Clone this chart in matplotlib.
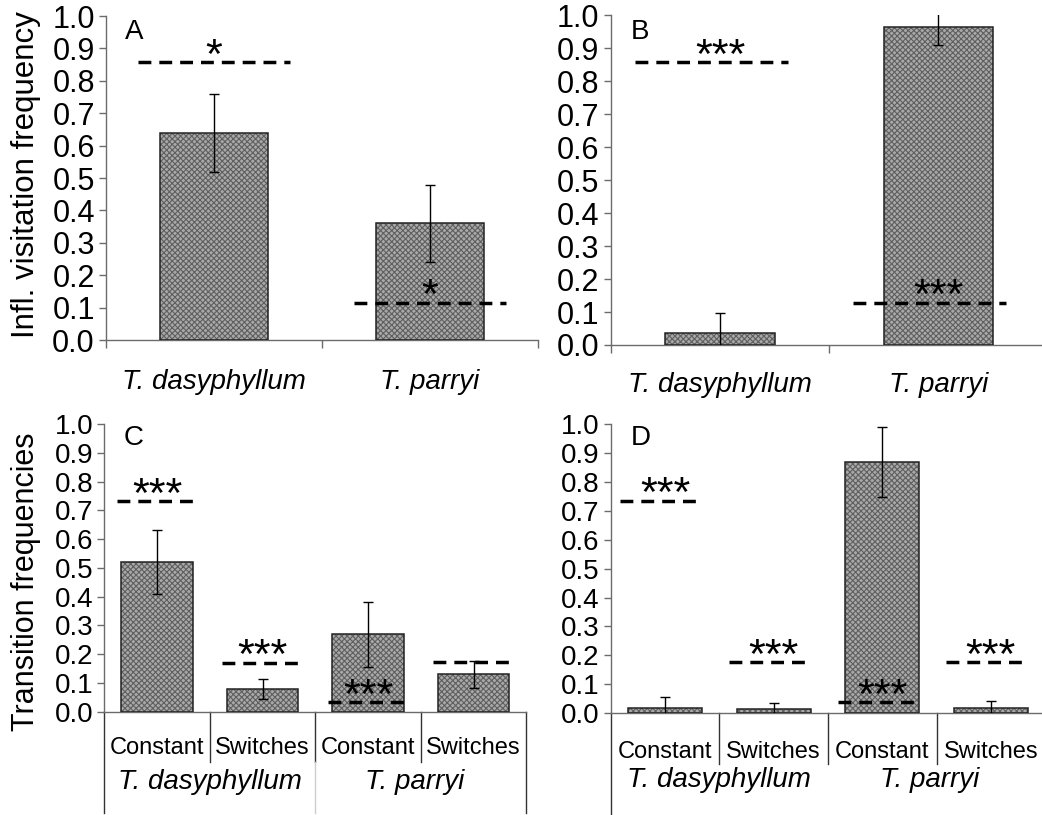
import numpy as np
import matplotlib.pyplot as plt
from matplotlib.transforms import blended_transform_factory

plt.rcParams['font.family'] = ['Liberation Sans', 'DejaVu Sans']
plt.rcParams['hatch.linewidth'] = 0.8

# data
species = ['T. dasyphyllum', 'T. parryi']
kinds = ['Constant', 'Switches']

a_vals = [0.64, 0.36]
a_err = [0.12, 0.12]
a_null = [0.857, 0.115]
a_sig = ['*', '*']

b_vals = [0.037, 0.964]
b_err = [0.061, 0.055]
b_null = [0.857, 0.128]
b_sig = ['***', '***']

c_vals = [0.52, 0.08, 0.27, 0.13]
c_err = [0.112, 0.035, 0.113, 0.047]
c_null = [0.732, 0.17, 0.034, 0.172]
c_sig = ['***', '***', '***', '']

d_vals = [0.017, 0.014, 0.867, 0.017]
d_err = [0.038, 0.023, 0.121, 0.024]
d_null = [0.734, 0.176, 0.039, 0.176]
d_sig = ['***', '***', '***', '***']

SPINE = '#6b6b6b'


def draw_panel(ax, vals, errs, nulls, sigs, width, span, letter, tick_fs):
    x = np.arange(len(vals))
    ax.bar(x, vals, width, color='#a9a9a9', edgecolor='#5f5f5f',
           hatch='xxxxxx', linewidth=0, zorder=2)
    ax.bar(x, vals, width, fill=False, edgecolor='#222222', linewidth=1.1, zorder=3)
    ax.errorbar(x, vals, yerr=errs, fmt='none', ecolor='black', elinewidth=1,
                capsize=3.5, capthick=1, zorder=4)
    for xi, n, s in zip(x, nulls, sigs):
        ax.plot([xi + span[0], xi + span[1]], [n, n], color='black', lw=2.5,
                dashes=(3.7, 2.3), zorder=5, dash_capstyle='butt', clip_on=False)
        if s:
            ax.annotate(s, xy=(xi, n), xytext=(0, -4), textcoords='offset points',
                        ha='center', va='baseline', fontsize=31, zorder=6)
    ax.set_xlim(-0.5, len(vals) - 0.5)
    ax.set_ylim(0, 1)
    ax.set_yticks(np.arange(0, 1.01, 0.1))
    ax.set_yticklabels(['%.1f' % v for v in np.arange(0, 1.01, 0.1)], fontsize=tick_fs)
    ax.tick_params(axis='y', direction='out', length=5, width=1, color=SPINE, pad=3)
    for side in ['top', 'right']:
        ax.spines[side].set_visible(False)
    for side in ['left', 'bottom']:
        ax.spines[side].set_color(SPINE)
        ax.spines[side].set_linewidth(1)
    ax.text(0.045, 0.95, letter, transform=ax.transAxes,
            fontsize=20, ha='left', va='center')


fig = plt.figure(figsize=(10.42, 8.15), dpi=100)

axA = fig.add_axes([0.1017, 0.5828, 0.4146, 0.3975])
axB = fig.add_axes([0.5861, 0.5767, 0.4194, 0.4045])
axC = fig.add_axes([0.1001, 0.1267, 0.405, 0.353])
axD = fig.add_axes([0.5861, 0.1248, 0.4169, 0.355])

draw_panel(axA, a_vals, a_err, a_null, a_sig, 0.5, (-0.35, 0.35), 'A', 22)
draw_panel(axB, b_vals, b_err, b_null, b_sig, 0.5, (-0.39, 0.31), 'B', 22)
draw_panel(axC, c_vals, c_err, c_null, c_sig, 0.68, (-0.38, 0.38), 'C', 20)
draw_panel(axD, d_vals, d_err, d_null, d_sig, 0.68, (-0.41, 0.35), 'D', 20)

# top row: one label per species
for ax, ylab in [(axA, -0.13), (axB, -0.12)]:
    ax.set_xticks([-0.5, 0.5, 1.5])
    ax.set_xticklabels([])
    ax.tick_params(axis='x', direction='out', length=6, width=1, color=SPINE)
    tr = blended_transform_factory(ax.transData, ax.transAxes)
    for i, sp in enumerate(species):
        ax.text(i, ylab, sp, transform=tr, ha='center', va='center',
                fontsize=20, style='italic')

# bottom row: two-level category axis
for ax, y1, y2, mid_long in [(axC, -0.126, -0.244, True), (axD, -0.133, -0.232, False)]:
    ax.set_xticks([])
    tr = blended_transform_factory(ax.transData, ax.transAxes)
    for i in range(4):
        ax.text(i, y1, kinds[i % 2], transform=tr, ha='center', va='center', fontsize=17)
    for g, sp in enumerate(species):
        ax.text(2 * g + 0.5 - 0.06 * g, y2, sp, transform=tr, ha='center',
                va='center', fontsize=20, style='italic')
    for xb in [0.5, 1.5, 2.5]:
        ax.plot([xb, xb], [0, -0.175], transform=tr, color='#333333', lw=1,
                clip_on=False)
    if mid_long:
        ax.plot([1.5, 1.5], [-0.175, -0.352], transform=tr, color='#cccccc', lw=1,
                clip_on=False)
    for xb in [-0.5, 3.5]:
        ax.plot([xb, xb], [0, -0.352], transform=tr, color='#333333', lw=1,
                clip_on=False)

axA.set_ylabel('Infl. visitation frequency', fontsize=22.5)
axA.yaxis.set_label_coords(-0.15, 0.512)
axC.set_ylabel('Transition frequencies', fontsize=22)
axC.yaxis.set_label_coords(-0.15, 0.451)

fig.savefig('out.png', dpi=100)
